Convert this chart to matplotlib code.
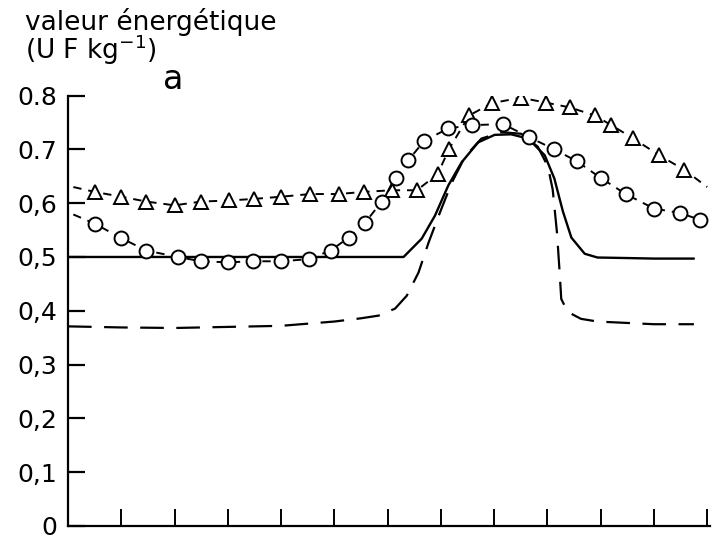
import numpy as np
import matplotlib
matplotlib.use("Agg")
import matplotlib.pyplot as plt

plt.rcParams['font.family'] = ['DejaVu Sans']
plt.rcParams['lines.scale_dashes'] = False

# courbe en trait plein
plein_x = [0, 6.3, 6.64, 6.89, 7.14, 7.39, 7.70, 8.01, 8.32, 8.64, 8.95, 9.13, 9.29, 9.45, 9.70,
           9.94, 10.5, 11.0, 11.75]
plein_y = [0.50, 0.50, 0.534, 0.577, 0.633, 0.676, 0.713, 0.727, 0.728, 0.72, 0.689, 0.646, 0.585,
           0.536, 0.506, 0.499, 0.498, 0.497, 0.497]

# courbe en tirets longs
tirets_x = [0, 1, 2, 3, 4, 5, 5.5, 5.83, 6.14, 6.36, 6.58, 6.77, 6.98, 7.2, 7.45, 7.76, 8.14, 8.51,
            8.82, 9.01, 9.1, 9.18, 9.23, 9.26, 9.38, 9.63, 9.94, 11.0, 11.75]
tirets_y = [0.371, 0.369, 0.368, 0.370, 0.372, 0.380, 0.386, 0.391, 0.404, 0.428, 0.471, 0.527,
            0.582, 0.637, 0.686, 0.72, 0.732, 0.729, 0.705, 0.668, 0.625, 0.545, 0.471, 0.422,
            0.398, 0.385, 0.380, 0.375, 0.375]

# triangles (le premier et le dernier point sont les bouts de ligne sans symbole)
tri_x = [0.1, 0.5, 1.0, 1.47, 2.0, 2.5, 3.03, 3.5, 4.0, 4.55, 5.08, 5.55, 6.08, 6.55, 6.94, 7.15,
         7.53, 7.96, 8.5, 8.97, 9.42, 9.89, 10.2, 10.6, 11.1, 11.57, 12.0]
tri_y = [0.63, 0.621, 0.612, 0.603, 0.596, 0.603, 0.605, 0.608, 0.612, 0.617, 0.617, 0.621, 0.624,
         0.624, 0.654, 0.70, 0.763, 0.786, 0.796, 0.787, 0.778, 0.763, 0.745, 0.721, 0.689, 0.662, 0.63]

# cercles
cer_x = [0.1, 0.5, 1.0, 1.47, 2.06, 2.5, 3.0, 3.47, 4.0, 4.52, 4.93, 5.27, 5.58, 5.89, 6.16, 6.39,
         6.69, 7.14, 7.58, 8.17, 8.65, 9.13, 9.55, 10.0, 10.47, 11.0, 11.48, 11.87, 12.0]
cer_y = [0.579, 0.562, 0.535, 0.512, 0.50, 0.492, 0.490, 0.492, 0.492, 0.496, 0.512, 0.536, 0.564,
         0.603, 0.646, 0.680, 0.716, 0.739, 0.745, 0.747, 0.723, 0.700, 0.678, 0.647, 0.617, 0.590,
         0.582, 0.569, 0.565]

ytick_vals = [0, 0.1, 0.2, 0.3, 0.4, 0.5, 0.6, 0.7, 0.8]
ytick_txt = ['0', '0,1', '0,2', '0,3', '0,4', '0,5', '0,6', '0.7', '0.8']
xtick_vals = list(range(0, 13))

fig = plt.figure(figsize=(7.12, 5.4), dpi=100)
ax = fig.add_axes([0.0955, 0.026, 0.9015, 0.797])

ax.plot(plein_x, plein_y, color='black', lw=1.7, solid_capstyle='round')
ax.plot(tirets_x, tirets_y, color='black', lw=1.6, dashes=(17, 9))
n = len(tri_x)
ax.plot(tri_x, tri_y, color='black', lw=1.4, dashes=(6, 5), marker='^', ms=10,
        mfc='white', mec='black', mew=1.4, markevery=list(range(1, n - 1)))
n = len(cer_x)
ax.plot(cer_x, cer_y, color='black', lw=1.4, dashes=(6, 5), marker='o', ms=10,
        mfc='white', mec='black', mew=1.4, markevery=list(range(1, n - 1)))

ax.set_xlim(0, 12.05)
ax.set_ylim(0, 0.8)
for s in ['top', 'right']:
    ax.spines[s].set_visible(False)
for s in ['left', 'bottom']:
    ax.spines[s].set_linewidth(1.6)
ax.spines['left'].set_bounds(0, 0.8)

ax.set_yticks(ytick_vals)
ax.set_yticklabels(ytick_txt, fontsize=18)
ax.set_xticks(xtick_vals[1:])
ax.set_xticklabels([])
ax.tick_params(axis='y', direction='in', length=12, width=1.6, pad=8)
ax.tick_params(axis='x', direction='in', length=12, width=1.4)

fig.text(0.035, 0.945, 'valeur énergétique', fontsize=19, va='baseline')
fig.text(0.035, 0.89, '(U F kg$^{-1}$)', fontsize=19, va='baseline')
fig.text(0.229, 0.836, 'a', fontsize=24, va='baseline')

fig.savefig('out.png', dpi=100, facecolor='white')
